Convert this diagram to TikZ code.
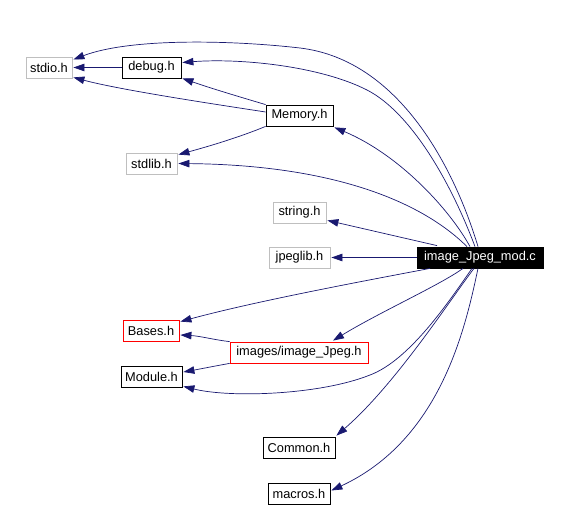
\documentclass[tikz,border=0pt]{standalone}
\usepackage{fontspec}
\setmainfont{Liberation Sans}
\usetikzlibrary{arrows.meta,calc}
\definecolor{edgecol}{HTML}{191970}
\definecolor{graybox}{HTML}{BFBFBF}
\tikzset{
  filebox/.style={draw=black, line width=0.8pt, minimum height=21pt, inner sep=0pt, font=\fontsize{12.8}{15}\selectfont, anchor=center},
  extbox/.style={filebox, draw=graybox},
  redbox/.style={filebox, draw=red},
  mainbox/.style={filebox, fill=black, text=white},
  dep/.style={draw=edgecol, line width=0.7pt, -{Triangle[length=11pt,width=7.5pt]}, fill=none},
}
\begin{document}
\begin{tikzpicture}[x=1pt,y=-1pt]
\useasboundingbox (0,0) rectangle (567,508);
\node[extbox, minimum width=46pt] (stdio) at (49,67.5) {stdio.h};
\node[filebox, minimum width=59pt] (debug) at (151.5,67.5) {debug.h};
\node[filebox, minimum width=67pt] (memory) at (299.5,115.5) {Memory.h};
\node[extbox, minimum width=51pt] (stdlib) at (151.5,163.5) {stdlib.h};
\node[extbox, minimum width=53pt] (string) at (299.5,212.5) {string.h};
\node[extbox, minimum width=61pt] (jpeglib) at (299.5,257.5) {jpeglib.h};
\node[mainbox, minimum width=126pt] (mod) at (480,257.5) {image\_Jpeg\_mod.c};
\node[redbox, minimum width=56pt] (bases) at (151,330.5) {Bases.h};
\node[redbox, minimum width=138pt] (images) at (299,352.5) {images/image\_Jpeg.h};
\node[filebox, minimum width=61pt] (module) at (151.5,376.5) {Module.h};
\node[filebox, minimum width=72pt] (common) at (299,447.5) {Common.h};
\node[filebox, minimum width=62pt] (macros) at (299,493.5) {macros.h};

% from image_Jpeg_mod.c (upper)
\draw[dep] ($(mod.north)+(-2,0)$) .. controls (455,170) and (400,60) .. (300,48)
  .. controls (230,40) and (130,38) .. ($(stdio.east)+(1,-8)$);
\draw[dep] ($(mod.north)+(-5,0)$) .. controls (450,180) and (410,112) .. (367,90)
  .. controls (320,66) and (240,58) .. ($(debug.east)+(1,-5)$);
\draw[dep] ($(mod.north)+(-10,0)$) .. controls (450,210) and (400,155) .. ($(memory.south east)+(1,1)$);
\draw[dep] ($(mod.north)+(-13,0)$) .. controls (420,200) and (330,165) .. ($(stdlib.east)+(1,0)$);
\draw[dep] ($(mod.north)+(-43,-1)$) -- ($(string.south east)+(1,-3)$);
\draw[dep] (mod.west) -- ($(jpeglib.east)+(1,0)$);
% from image_Jpeg_mod.c (lower)
\draw[dep] ($(mod.south)+(-50,0)$) .. controls (380,278) and (260,300) .. ($(bases.north east)+(1,2)$);
\draw[dep] ($(mod.south)+(-17,0)$) .. controls (440,285) and (380,312) .. ($(images.north)+(34,-1)$);
\draw[dep] ($(mod.south)+(-8,0)$) .. controls (450,300) and (410,360) .. (370,375)
  .. controls (320,395) and (230,398) .. ($(module.south east)+(1,-1)$);
\draw[dep] ($(mod.south)+(-6,0)$) .. controls (450,300) and (395,385) .. ($(common.north east)+(1,-1)$);
\draw[dep] ($(mod.south)+(-2,0)$) .. controls (465,330) and (440,440) .. ($(macros.east)+(1,-3)$);
% others
\draw[dep] (debug.west) -- ($(stdio.east)+(1,0)$);
\draw[dep] ($(memory.west)+(0,-3.5)$) .. controls (220,105) and (120,90) .. ($(stdio.south east)+(1,-1)$);
\draw[dep] (memory.north west) .. controls (240,97) and (210,88) .. ($(debug.south east)+(1,0)$);
\draw[dep] (memory.south west) .. controls (240,137) and (210,146) .. ($(stdlib.north east)+(1,2)$);
\draw[dep] (images.north west) .. controls (215,340) and (200,336) .. ($(bases.east)+(1,4.5)$);
\draw[dep] (images.south west) .. controls (215,366) and (200,369) .. ($(module.east)+(1,-4.5)$);
\end{tikzpicture}
\end{document}
